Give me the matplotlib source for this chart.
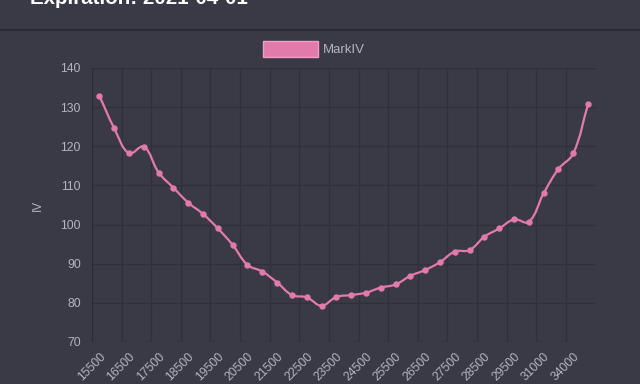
import matplotlib
matplotlib.use("Agg")
import matplotlib.pyplot as plt
from matplotlib.patches import Patch
from matplotlib.path import Path
from matplotlib.patches import PathPatch
import numpy as np

# strikes (categories) and implied vol
strikes = [15500, 16000, 16500, 17000, 17500, 18000, 18500, 19000, 19500, 20000,
           20500, 21000, 21500, 22000, 22500, 23000, 23500, 24000, 24500, 25000,
           25500, 26000, 26500, 27000, 27500, 28000, 28500, 29000, 29500, 30000,
           31000, 32500, 34000, 36000]
mark_iv = [132.9, 124.6, 118.2, 119.9, 113.3, 109.4, 105.6, 102.7, 99.0, 94.8,
           89.7, 88.0, 85.2, 82.0, 81.4, 79.3, 81.5, 82.0, 82.6, 83.9,
           84.7, 86.9, 88.4, 90.4, 93.1, 93.5, 96.9, 99.0, 101.3, 100.7,
           108.0, 114.2, 118.2, 130.8]
shown_labels = [15500, 16500, 17500, 18500, 19500, 20500, 21500, 22500, 23500,
                24500, 25500, 26500, 27500, 28500, 29500, 31000, 34000]

title = "Expiration: 2021-04-01"
bg = "#3a3a46"
pink = "#e27aab"
txt = "#b4b4bc"
grid = "#30303b"

plt.rcParams['font.family'] = ['Liberation Sans', 'DejaVu Sans']

fig = plt.figure(figsize=(6.4, 3.84), dpi=100, facecolor=bg)
ax = fig.add_axes([92/640, 1-342/384, (595.5-92)/640, (342-68)/384])
ax.set_facecolor(bg)

x = np.arange(len(strikes))
y = np.array(mark_iv)

# chart.js style bezier smoothing (tension 0.4), computed in pixel scale
sx, sy = 14.8, 3.914
px, py = x*sx, y*sy
verts = [(x[0], y[0])]
codes = [Path.MOVETO]
cps = []
for i in range(len(x)):
    a = max(i-1, 0); c = min(i+1, len(x)-1)
    d01 = np.hypot(px[i]-px[a], py[i]-py[a])
    d12 = np.hypot(px[c]-px[i], py[c]-py[i])
    s = d01 + d12 if d01 + d12 > 0 else 1
    fa, fb = 0.4*d01/s, 0.4*d12/s
    dx, dy = x[c]-x[a], y[c]-y[a]
    cps.append(((x[i]-fa*dx, y[i]-fa*dy), (x[i]+fb*dx, y[i]+fb*dy)))
for i in range(1, len(x)):
    verts += [cps[i-1][1], cps[i][0], (x[i], y[i])]
    codes += [Path.CURVE4]*3
ax.add_patch(PathPatch(Path(verts, codes), fc='none', ec=pink, lw=1.6, zorder=3))
ax.plot(x, y, 'o', color=pink, ms=3.6, zorder=4)

ax.set_xlim(-0.5, len(strikes)-0.5)
ax.set_ylim(70, 140)
ax.set_yticks(range(70, 141, 10))
tick_pos = [strikes.index(s) for s in shown_labels]
ax.set_xticks(tick_pos)
ax.set_xticklabels([str(s) for s in shown_labels], rotation=45, ha='right',
                   rotation_mode='anchor')
ax.set_xticks([p-0.5 for p in tick_pos], minor=True)
ax.grid(False)
ax.grid(True, which='minor', axis='x', color=grid, lw=1)
ax.grid(True, which='major', axis='y', color=grid, lw=1)
ax.set_axisbelow(True)
ax.tick_params(axis='both', which='both', length=0, colors=txt, labelsize=8.8)
ax.tick_params(axis='x', pad=6)
ax.tick_params(axis='y', pad=8)
for sp in ax.spines.values():
    sp.set_visible(False)
ax.axvline(-0.5, color="#2a2a33", lw=1.2)
ax.set_ylabel("IV", color=txt, fontsize=8.5, labelpad=12)

# header (cut at the top edge as in the source)
fig.text(30/640, 1-4/384, title, color='white', fontsize=14.8, fontweight='bold',
         va='baseline', ha='left')
fig.add_artist(plt.Line2D([0, 1], [1-30/384, 1-30/384], color="#2b2b33", lw=1.5))

leg = fig.legend(handles=[Patch(facecolor=pink, edgecolor="#f0a0c8", lw=1)],
                 labels=["MarkIV"], loc='center', bbox_to_anchor=(314/640, 1-49/384),
                 frameon=False, handlelength=4.2, handleheight=1.4, fontsize=9.5,
                 handletextpad=0.4, labelcolor=txt)

fig.savefig("out.png", dpi=100, facecolor=bg)
